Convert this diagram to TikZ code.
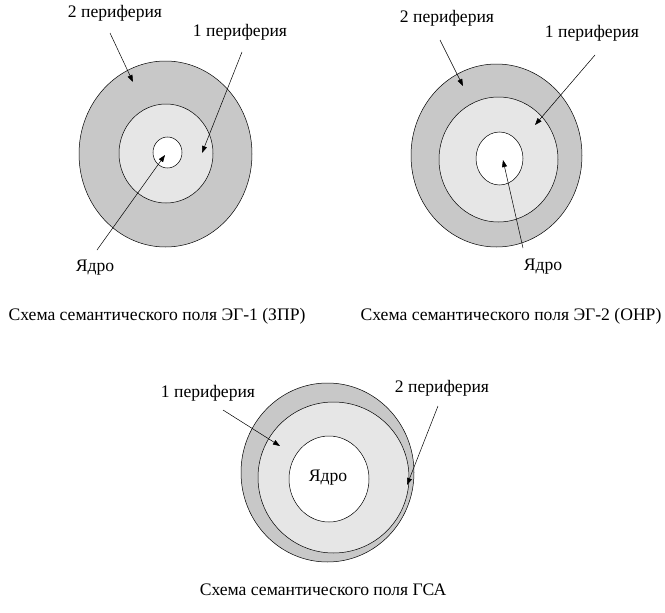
\documentclass[tikz,border=0pt]{standalone}
\usepackage{fontspec}
\setmainfont{Liberation Serif}
\usetikzlibrary{arrows.meta,shapes.geometric}

\begin{document}
\begin{tikzpicture}[
  x=1pt,y=-1pt,
  ring/.style={draw,ellipse,line width=0.5pt,inner sep=0pt},
  periph2/.style={ring,fill=gray2},
  periph1/.style={ring,fill=gray1},
  core/.style={ring,fill=white},
  lbl/.style={inner sep=1pt,font=\fontsize{17.6}{21}\selectfont},
  pointer/.style={-{Triangle[length=7pt,width=5pt]},line width=0.5pt}
]
\definecolor{gray2}{HTML}{C8C8C8}
\definecolor{gray1}{HTML}{E6E6E6}
\useasboundingbox (0,0) rectangle (665,613);

% ЭГ-1 (ЗПР)
\node[periph2,minimum width=173pt,minimum height=186pt] (a2) at (165.5,154) {};
\node[periph1,minimum width=94pt,minimum height=99pt] (a1) at (166,153.5) {};
\node[core,minimum width=29pt,minimum height=31pt] (a0) at (167.5,152.5) {};
\node[lbl] (la2) at (115,13) {2 периферия};
\node[lbl] (la1) at (240,32) {1 периферия};
\node[lbl] (la0) at (95,268) {Ядро};
\node[lbl] (ca) at (157,316) {Схема семантического поля ЭГ-1 (ЗПР)};
\coordinate (sa2) at (110,33); \coordinate (ta2) at (133,82);
\coordinate (sa1) at (242,52); \coordinate (ta1) at (202,153);
\coordinate (sa0) at (97,250); \coordinate (ta0) at (165,155);
\draw[pointer] (sa2) -- (ta2);
\draw[pointer] (sa1) -- (ta1);
\draw[pointer] (sa0) -- (ta0);

% ЭГ-2 (ОНР)
\node[periph2,minimum width=171pt,minimum height=183pt] (b2) at (496.5,155.5) {};
\node[periph1,minimum width=119pt,minimum height=125pt] (b1) at (498.5,159.5) {};
\node[core,minimum width=47pt,minimum height=53pt] (b0) at (499.5,158.5) {};
\node[lbl] (lb2) at (447,18) {2 периферия};
\node[lbl] (lb1) at (592,33) {1 периферия};
\node[lbl] (lb0) at (543,267) {Ядро};
\node[lbl] (cb) at (511,316) {Схема семантического поля ЭГ-2 (ОНР)};
\coordinate (sb2) at (440,40); \coordinate (tb2) at (463,86);
\coordinate (sb1) at (595,55); \coordinate (tb1) at (535,125);
\coordinate (sb0) at (523,248); \coordinate (tb0) at (503,160);
\draw[pointer] (sb2) -- (tb2);
\draw[pointer] (sb1) -- (tb1);
\draw[pointer] (sb0) -- (tb0);

% ГСА
\node[periph2,minimum width=173pt,minimum height=179pt] (c2) at (327.5,472.5) {};
\node[periph1,minimum width=151pt,minimum height=151pt] (c1) at (333.5,477.5) {};
\node[core,minimum width=80pt,minimum height=86pt] (c0) at (329,479) {};
\node[lbl] (lc0) at (328,478) {Ядро};
\node[lbl] (lc1) at (208,393) {1 периферия};
\node[lbl] (lc2) at (442,388) {2 периферия};
\node[lbl] (cc) at (323,590) {Схема семантического поля ГСА};
\coordinate (sc1) at (223,410); \coordinate (tc1) at (280,446);
\coordinate (sc2) at (438,406); \coordinate (tc2) at (407,485);
\draw[pointer] (sc1) -- (tc1);
\draw[pointer] (sc2) -- (tc2);
\end{tikzpicture}
\end{document}
